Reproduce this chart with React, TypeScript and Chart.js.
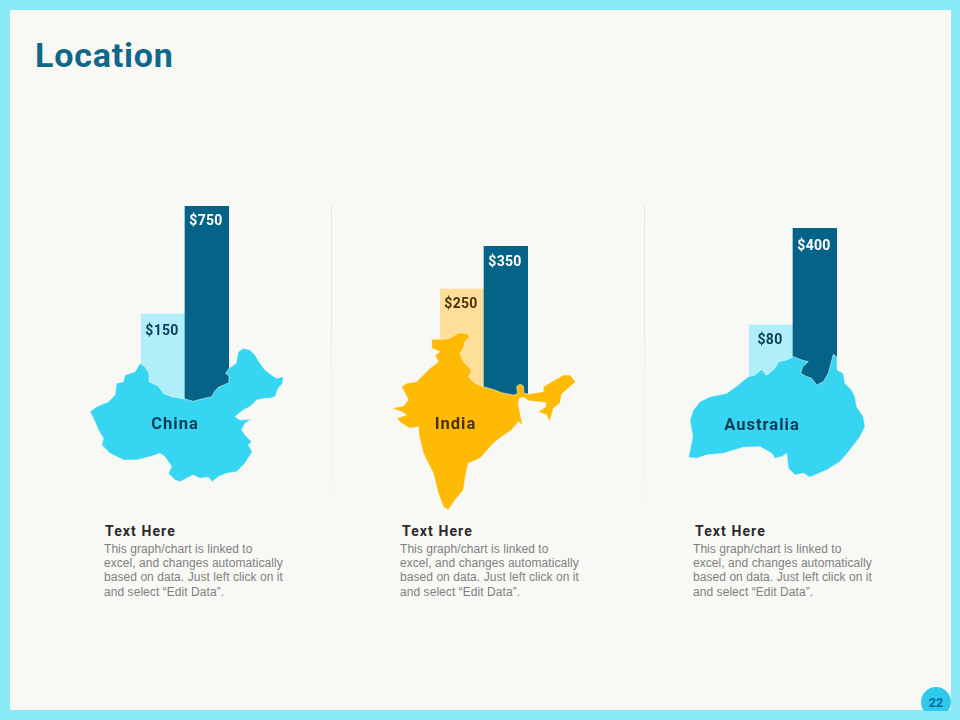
import React, { useEffect, useRef } from "react";
import { Chart, registerables } from "chart.js";

Chart.register(...registerables);

const seriesNames = ["Series 1", "Series 2"];
const chinaValues = [150, 750];
const indiaValues = [250, 350];
const australiaValues = [80, 400];
const descriptionLines = [
  "This graph/chart is linked to",
  "excel, and changes automatically",
  "based on data. Just left click on it",
  "and select \u201CEdit Data\u201D.",
];

const DARK = "#066388";
const LIGHT_BLUE = "#B0EFF9";
const LIGHT_GOLD = "#FDDF99";
const CYAN = "#36D6F3";
const GOLD = "#FFBA05";
const DISPLAY_FONT = "Roboto";

// Decorative map outlines, in tripled canvas pixels.
const chinaOutline = [
  [180,490],[195,500],[207,520],[207,545],[235,558],[250,580],[275,590],[315,597],[340,604],[365,597],[395,590],[403,575],[415,562],[447,548],[447,528],[437,520],[447,505],[468,490],[475,455],[490,445],[510,450],[525,465],[540,490],[555,510],[575,525],[590,535],[610,530],[608,550],[595,565],[585,590],[570,595],[555,595],[530,600],[510,620],[490,630],[465,650],[480,660],[515,658],[495,670],[485,690],[495,705],[515,725],[505,735],[517,755],[495,790],[470,815],[440,820],[415,830],[397,845],[385,832],[360,835],[340,825],[320,835],[300,845],[285,840],[265,820],[275,800],[255,770],[240,760],[210,770],[170,780],[130,780],[90,760],[65,735],[70,715],[55,690],[45,665],[30,635],[50,620],[85,605],[105,585],[110,550],[130,545],[135,525],[165,515],
];
const indiaOutline = [
  [155,298],[185,298],[210,295],[235,278],[262,280],[268,292],[255,305],[250,325],[240,340],[250,365],[270,385],[275,395],[265,410],[285,430],[310,440],[345,450],[365,458],[400,465],[413,462],[410,440],[420,432],[430,438],[432,460],[445,462],[490,455],[490,440],[515,425],[550,405],[570,405],[587,425],[565,445],[545,462],[540,490],[520,505],[515,525],[508,545],[500,525],[475,515],[497,500],[498,488],[470,485],[445,482],[432,472],[418,475],[415,490],[420,520],[428,555],[415,545],[395,570],[365,590],[340,610],[300,655],[265,670],[258,700],[250,750],[225,780],[205,810],[190,800],[175,760],[160,700],[130,640],[118,590],[115,560],[90,565],[65,550],[50,535],[80,525],[65,515],[35,505],[70,498],[85,480],[65,440],[80,430],[110,425],[150,385],[175,365],[165,345],[180,335],[155,325],
];
const australiaOutline = [
  [40,570],[60,545],[90,530],[140,520],[175,495],[185,485],[205,470],[225,465],[245,448],[258,465],[265,462],[285,445],[295,425],[320,420],[340,410],[365,420],[385,425],[368,440],[362,460],[380,470],[395,475],[410,495],[430,485],[445,460],[460,403],[470,410],[472,450],[490,460],[495,490],[515,510],[525,530],[530,560],[550,590],[555,620],[540,650],[510,690],[480,725],[440,750],[390,772],[370,760],[345,765],[325,745],[320,700],[305,710],[285,715],[275,700],[240,680],[190,682],[130,700],[80,705],[50,715],[25,712],[30,690],[38,650],[30,600],
];

type Panel = {
  name: string; values: number[]; colors: string[]; outline: number[][]; mapColor: string;
  left: number; top: number; width: number; height: number;
  padLeft: number; padRight: number; padTop: number; padBottom: number;
  min: number; max: number; labelDy: number[]; nameX: number; nameY: number; nameColor: string; lowTextColor: string;
};

const panels: Panel[] = [
  { name: "China", values: chinaValues, colors: [LIGHT_BLUE, DARK], outline: chinaOutline, mapColor: CYAN,
    left: 80, top: 200, width: 220, height: 290, padLeft: 61, padRight: 71, padTop: 6, padBottom: 70,
    min: -439, max: 750, labelDy: [18, 15], nameX: 95, nameY: 225, nameColor: "#0B3B52", lowTextColor: "#0B3B52" },
  { name: "India", values: indiaValues, colors: [LIGHT_GOLD, DARK], outline: indiaOutline, mapColor: GOLD,
    left: 380, top: 240, width: 210, height: 280, padLeft: 60, padRight: 62, padTop: 6, padBottom: 123.5,
    min: 0, max: 350, labelDy: [15, 16], nameX: 75.5, nameY: 185, nameColor: "#4A3208", lowTextColor: "#4A3208" },
  { name: "Australia", values: australiaValues, colors: [LIGHT_BLUE, DARK], outline: australiaOutline, mapColor: CYAN,
    left: 680, top: 220, width: 200, height: 270, padLeft: 69, padRight: 43, padTop: 8, padBottom: 70,
    min: -234, max: 400, labelDy: [16, 18], nameX: 82, nameY: 206, nameColor: "#0B3B52", lowTextColor: "#0B3B52" },
];

const copyColumns = [
  { headX: 105, textX: 104 },
  { headX: 402, textX: 400 },
  { headX: 695, textX: 693 },
];

function PanelChart({ panel }: { panel: Panel }) {
  const ref = useRef<HTMLCanvasElement | null>(null);
  useEffect(() => {
    if (!ref.current) return;
    const overlay = {
      id: "mapOverlay",
      afterDatasetsDraw(chart: any) {
        const ctx = chart.ctx;
        ctx.save();
        ctx.textAlign = "center";
        ctx.textBaseline = "middle";
        ctx.font = `700 14px ${DISPLAY_FONT}`;
        if ("letterSpacing" in ctx) (ctx as any).letterSpacing = "0.3px";
        chart.getDatasetMeta(0).data.forEach((bar: any, i: number) => {
          ctx.fillStyle = i === 1 ? "#FFFFFF" : panel.lowTextColor;
          ctx.fillText(`$${panel.values[i]}`, bar.x - 1, bar.y + panel.labelDy[i]);
        });
        ctx.beginPath();
        panel.outline.forEach(([x, y], i) => {
          if (i === 0) ctx.moveTo(x / 3, y / 3);
          else ctx.lineTo(x / 3, y / 3);
        });
        ctx.closePath();
        ctx.fillStyle = panel.mapColor;
        ctx.fill();
        ctx.strokeStyle = "rgba(249,250,246,0.75)";
        ctx.lineWidth = 0.7;
        ctx.stroke();
        ctx.fillStyle = panel.nameColor;
        ctx.font = `700 16.5px ${DISPLAY_FONT}`;
        if ("letterSpacing" in ctx) (ctx as any).letterSpacing = "1px";
        ctx.fillText(panel.name, panel.nameX, panel.nameY);
        ctx.restore();
      },
    };
    const chart = new Chart(ref.current, {
      type: "bar",
      data: {
        labels: seriesNames,
        datasets: [{
          data: panel.values,
          backgroundColor: panel.colors,
          base: panel.min,
          barPercentage: 1,
          categoryPercentage: 1,
          borderWidth: 0,
        }],
      },
      options: {
        animation: false,
        responsive: false,
        maintainAspectRatio: false,
        layout: { padding: { left: panel.padLeft, right: panel.padRight, top: panel.padTop, bottom: panel.padBottom } },
        plugins: { legend: { display: false }, tooltip: { enabled: false } },
        scales: {
          x: { display: false },
          y: { display: false, min: panel.min, max: panel.max },
        },
      },
      plugins: [overlay],
    } as any);
    return () => chart.destroy();
  }, [panel]);
  return (
    <canvas
      ref={ref}
      width={panel.width}
      height={panel.height}
      style={{ position: "absolute", left: panel.left, top: panel.top, width: panel.width, height: panel.height }}
    />
  );
}

export default function App() {
  useEffect(() => {
    document.body.style.margin = "0";
    document.body.style.overflow = "hidden";
  }, []);
  return (
    <div style={{ position: "absolute", left: 0, top: 0, width: 960, height: 720, overflow: "hidden", background: "#8BEAF8" }}>
      <div style={{ position: "absolute", left: 10, top: 10, width: 941, height: 700, background: "#F8F9F5" }} />
      <div style={{ position: "absolute", left: 921, top: 687, width: 30, height: 30, borderRadius: "50%", background: "#2FC9EC", clipPath: "inset(0 0 6px 0)" }} />
      <div style={{ position: "absolute", left: 921, top: 695, width: 30, textAlign: "center", font: `700 12.5px ${DISPLAY_FONT}`, lineHeight: "15px", color: "#0B6A94" }}>22</div>
      <div style={{ position: "absolute", left: 35, top: 35, font: `700 34px ${DISPLAY_FONT}`, lineHeight: "40px", color: "#10678A", letterSpacing: "0.8px" }}>Location</div>
      {[331, 644].map((x) => (
        <div key={x} style={{ position: "absolute", left: x, top: 206, width: 1, height: 320, background: "linear-gradient(#E2E6D4, #F0F2E6 75%, #F8F9F5)" }} />
      ))}
      {panels.map((p) => <PanelChart key={p.name} panel={p} />)}
      {copyColumns.map((c, i) => (
        <React.Fragment key={i}>
          <div style={{ position: "absolute", left: c.headX, top: 523, font: `700 14px ${DISPLAY_FONT}`, lineHeight: "16px", letterSpacing: "1.1px", color: "#2B2B2B" }}>Text Here</div>
          {descriptionLines.map((line, j) => (
            <div key={j} style={{ position: "absolute", left: c.textX, top: 542 + j * 14.2, font: "12px 'Liberation Sans'", lineHeight: "14px", letterSpacing: "0.06px", color: "#7F7F7F", whiteSpace: "nowrap" }}>{line}</div>
          ))}
        </React.Fragment>
      ))}
    </div>
  );
}
